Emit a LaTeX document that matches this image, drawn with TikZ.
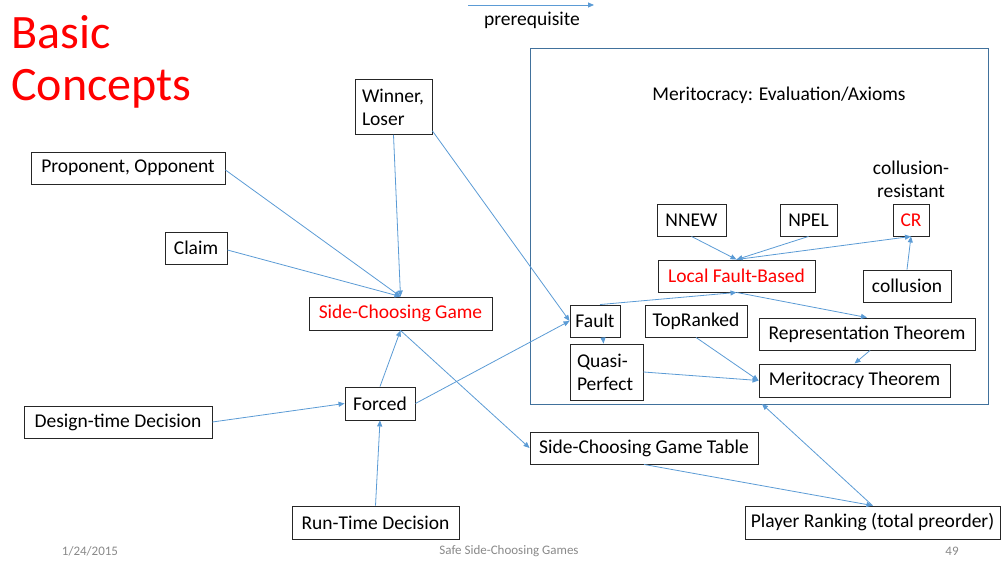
\documentclass[tikz,border=0pt]{standalone}
\usepackage{fontspec}
\setmainfont{Carlito}
\usetikzlibrary{arrows.meta,calc}
\definecolor{arr}{RGB}{91,155,213}
\definecolor{frame}{RGB}{65,113,156}
\definecolor{foot}{RGB}{137,137,137}
\definecolor{ttl}{RGB}{255,0,0}
\tikzset{
  cbox/.style={draw=black!85,line width=0.9pt,inner sep=0pt,font=\fontsize{19.5}{23}\selectfont,align=center},
  lbox/.style={cbox,align=left},
  redtext/.style={text=ttl},
  pre/.style={draw=arr,line width=0.8pt,-{Triangle[length=6pt,width=5pt]}},
  plain/.style={inner sep=0pt,font=\fontsize{19.5}{23}\selectfont,align=center},
  footer/.style={inner sep=0pt,text=foot,font=\fontsize{13}{15}\selectfont}
}
\begin{document}
\begin{tikzpicture}[x=1pt,y=-1pt]
\useasboundingbox (0,0) rectangle (1002,561);
% title
\node[inner sep=0pt,anchor=base west,text=ttl,font=\fontsize{48}{52}\selectfont,align=left] (title) at (11,101) {Basic\\Concepts};
% legend
\coordinate (l1) at (468,5);
\coordinate (l2) at (594,5);
\draw[pre] (l1) -- (l2);
\node[plain] (legend) at (532,20) {prerequisite};
% big frame
\node[draw=frame,line width=0.9pt,minimum width=458pt,minimum height=356pt,inner sep=0pt] (mbox) at (759,226) {};
\node[plain] (mtitle) at (779,95) {Meritocracy: Evaluation/Axioms};
\node[plain] (crtext) at (911,179) {collusion-\\resistant};
% nodes
\node[lbox,minimum width=77pt,minimum height=55pt,text width=63pt] (winner) at (393.5,107) {Winner,\\Loser};
\node[cbox,minimum width=194pt,minimum height=32pt] (prop) at (128,168) {Proponent, Opponent};
\node[cbox,minimum width=62pt,minimum height=32pt] (claim) at (196,248) {Claim};
\node[cbox,minimum width=183pt,minimum height=33pt,redtext] (scg) at (400.5,313.5) {Side-Choosing Game};
\node[cbox,minimum width=70pt,minimum height=33pt] (forced) at (380,403.5) {Forced};
\node[cbox,minimum width=188pt,minimum height=32pt] (design) at (118,422) {Design-time Decision};
\node[cbox,minimum width=167pt,minimum height=33pt] (run) at (375.5,522.5) {Run-Time Decision};
\node[cbox,minimum width=228pt,minimum height=32pt] (table) at (644,448) {Side-Choosing Game Table};
\node[cbox,minimum width=255pt,minimum height=33pt] (player) at (872.5,522.5) {Player Ranking (total preorder)};
\node[cbox,minimum width=69pt,minimum height=32pt] (nnew) at (691.5,220) {NNEW};
\node[cbox,minimum width=57pt,minimum height=32pt] (npel) at (808.5,220) {NPEL};
\node[cbox,minimum width=36pt,minimum height=32pt,redtext] (cr) at (911,220) {CR};
\node[cbox,minimum width=157pt,minimum height=32pt,redtext] (lfb) at (736.5,276) {Local Fault-Based};
\node[cbox,minimum width=88pt,minimum height=32pt] (collusion) at (907,286) {collusion};
\node[cbox,minimum width=50pt,minimum height=32pt] (fault) at (595,321) {Fault};
\node[cbox,minimum width=102pt,minimum height=32pt] (topranked) at (696,321) {TopRanked};
\node[cbox,minimum width=216pt,minimum height=32pt] (rep) at (867,334) {Representation Theorem};
\node[lbox,minimum width=73pt,minimum height=56pt,text width=59pt] (quasi) at (606.5,372) {Quasi-\\Perfect};
\node[cbox,minimum width=191pt,minimum height=33pt] (merit) at (854.5,380.5) {Meritocracy Theorem};
\coordinate (mb) at (762,404);
% connectors
\draw[pre] (winner.south) -- (scg.north);
\draw[pre] ($(winner.south east)+(0,-4)$) -- (fault.west);
\draw[pre] ($(prop.east)+(0,2)$) -- (scg.north);
\draw[pre] ($(claim.east)+(0,2)$) -- (scg.north);
\draw[pre] (forced.north) -- (scg.south);
\draw[pre] (scg.south) -- (table.west);
\draw[pre] (forced.east) -- (fault.west);
\draw[pre] (design.east) -- (forced.west);
\draw[pre] (run.north) -- (forced.south);
\draw[pre] ($(fault.south)+(8,0)$) -- ($(quasi.north)+(-3,0)$);
\draw[pre] ($(fault.north)+(5,0)$) -- (lfb.south);
\draw[pre] (nnew.south) -- (lfb.north);
\draw[pre] (npel.south) -- (lfb.north);
\draw[pre] (lfb.north) -- (cr.south);
\draw[pre] (collusion.north) -- (cr.south);
\draw[pre] (lfb.south) -- (rep.north);
\draw[pre] ($(rep.south)+(3,0)$) -- (merit.north);
\draw[pre] (topranked.south) -- (merit.west);
\draw[pre] (quasi.east) -- (merit.west);
\draw[pre] (player.north) -- (mb);
\draw[pre] (table.south) -- (player.north);
% footer
\node[footer] (date) at (90,551) {1/24/2015};
\node[footer] (ftitle) at (509,551) {Safe Side-Choosing Games};
\node[footer] (page) at (952,551) {49};
\end{tikzpicture}
\end{document}
